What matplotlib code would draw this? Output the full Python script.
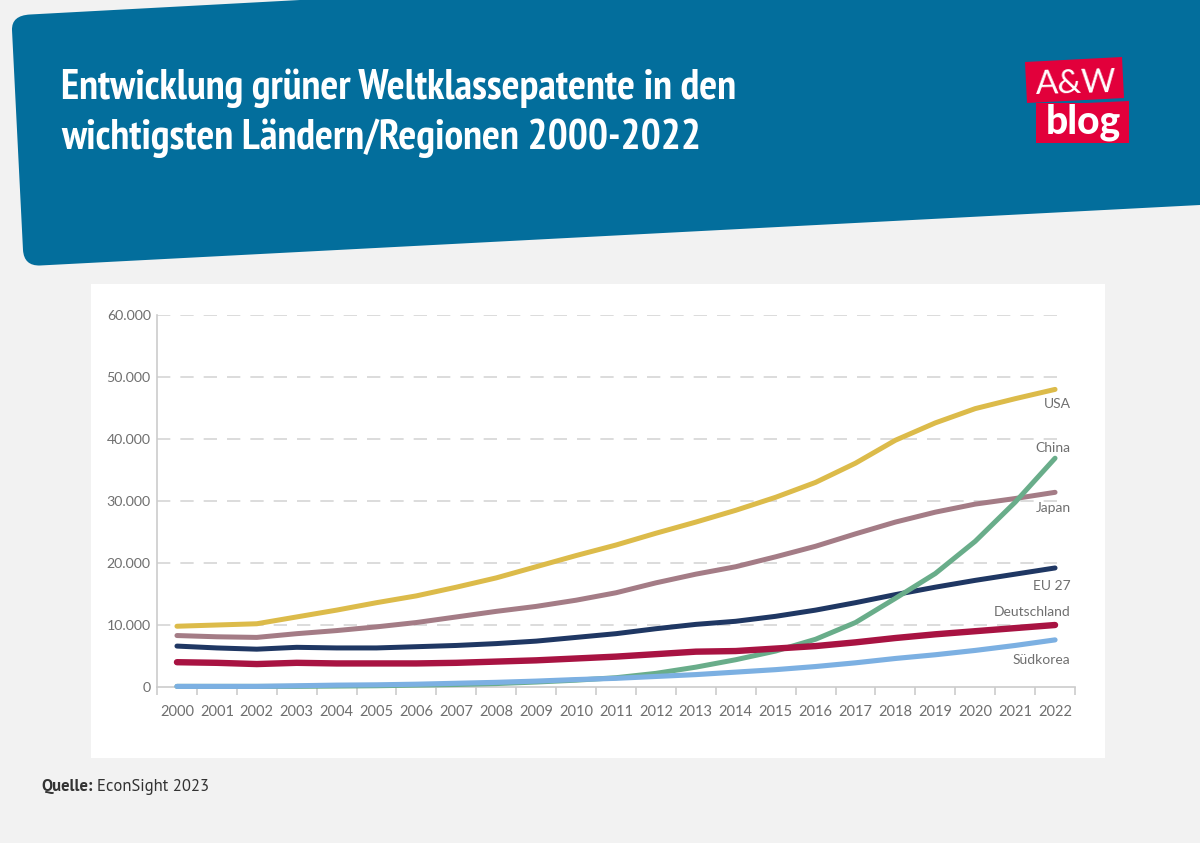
import matplotlib
matplotlib.use('Agg')
import matplotlib.pyplot as plt
from matplotlib.patches import PathPatch, Polygon, Rectangle
from matplotlib.path import Path
import numpy as np

years = list(range(2000, 2023))
usa = [9800, 10000, 10200, 11300, 12400, 13600, 14700, 16100, 17600, 19400, 21200, 22900,
       24800, 26600, 28500, 30600, 33000, 36100, 39800, 42600, 44900, 46500, 48000]
japan = [8300, 8100, 8000, 8600, 9100, 9700, 10400, 11300, 12200, 13000, 14000, 15200,
         16800, 18200, 19400, 21000, 22700, 24700, 26600, 28200, 29500, 30400, 31400]
eu27 = [6600, 6300, 6100, 6400, 6300, 6300, 6500, 6700, 7000, 7400, 8000, 8600,
        9400, 10100, 10600, 11400, 12400, 13600, 14900, 16100, 17200, 18200, 19200]
china = [100, 100, 100, 100, 150, 200, 300, 400, 550, 800, 1100, 1500,
         2200, 3200, 4400, 5800, 7700, 10400, 14300, 18300, 23500, 29800, 36900]
germany = [4000, 3900, 3700, 3900, 3800, 3800, 3800, 3900, 4100, 4300, 4600, 4900,
           5300, 5700, 5800, 6200, 6600, 7200, 7900, 8500, 9000, 9500, 10000]
korea = [100, 100, 100, 200, 300, 350, 450, 600, 750, 950, 1200, 1400,
         1700, 2000, 2400, 2800, 3300, 3900, 4600, 5200, 5900, 6700, 7600]
y_ticks = [0, 10000, 20000, 30000, 40000, 50000, 60000]
y_labels = ['0', '10.000', '20.000', '30.000', '40.000', '50.000', '60.000']

W, H = 1200, 843
fig = plt.figure(figsize=(W / 100, H / 100), dpi=100, facecolor='#f2f2f2')

# page furniture, in pixel coordinates
bg = fig.add_axes([0, 0, 1, 1])
bg.set_xlim(0, W)
bg.set_ylim(H, 0)
bg.axis('off')

verts = [(30, 14.5), (300, 0), (1200, 0), (1200, 205), (40, 265.5), (40, 265.5),
         (24, 266), (23, 250), (12, 30), (12, 30), (11.5, 15.5), (30, 14.5)]
codes = [Path.MOVETO, Path.LINETO, Path.LINETO, Path.LINETO, Path.LINETO, Path.LINETO,
         Path.CURVE3, Path.CURVE3, Path.LINETO, Path.LINETO, Path.CURVE3, Path.CURVE3]
bg.add_patch(PathPatch(Path(verts, codes), fc='#036e9c', ec='none'))
bg.add_patch(Rectangle((91, 284), 1014, 474, fc='white', ec='none'))

title_font = ['PT Sans Narrow', 'Liberation Sans']
bg.text(61, 88, 'Entwicklung grüner Weltklassepatente in den', family=title_font, weight='bold',
        fontsize=30.3, color='white', va='center', ha='left')
bg.text(61, 138, 'wichtigsten Ländern/Regionen 2000-2022', family=title_font, weight='bold',
        fontsize=30.3, color='white', va='center', ha='left')

bg.add_patch(Polygon([(1025, 62), (1122, 57), (1124, 98), (1027, 103)], fc='#e2003b', ec='none'))
bg.add_patch(Polygon([(1036, 103), (1086, 103), (1129, 101), (1129, 143), (1036, 143)], fc='#e2003b', ec='none'))
bg.text(1076, 84, 'A&W', family='Lato', fontsize=24, color='white', ha='center', va='center', rotation=1.5)
bg.text(1083, 122, 'blog', family='Lato', weight='black', fontsize=28, color='white',
        ha='center', va='center')

source_font = ['PT Sans', 'Open Sans']
bg.text(41, 787, 'Quelle:', family=source_font, weight='bold', fontsize=12, color='#333333', va='center')
bg.text(97, 787, 'EconSight 2023', family=source_font, fontsize=12, color='#333333', va='center')

# chart axes: 2000..2022 centred in their tick bands
ax = fig.add_axes([157 / W, 1 - 687 / H, (1075 - 157) / W, (687 - 315) / H])
ax.patch.set_alpha(0)
ax.set_xlim(1999.5, 2022.5)
ax.set_ylim(0, 60000)

ax.hlines(y_ticks[1:], 1999.5, 2022.2, color='#d6d6d6', lw=1.2, linestyles=(0, (8, 6)), zorder=1)

for s in ['top', 'right']:
    ax.spines[s].set_visible(False)
for s in ['left', 'bottom']:
    ax.spines[s].set_color('#cccccc')
    ax.spines[s].set_linewidth(1.2)

ax.set_yticks(y_ticks)
ax.set_yticklabels(y_labels)
ax.set_xticks(years)
ax.set_xticklabels([str(y) for y in years])
ax.set_xticks(np.arange(1999.5, 2023), minor=True)
ax.tick_params(axis='x', which='major', length=0, pad=13, labelsize=10.5, labelcolor='#6f6f6f')
ax.tick_params(axis='x', which='minor', length=6, width=1.2, color='#cccccc')
ax.tick_params(axis='y', length=0, pad=4.5, labelsize=10.2, labelcolor='#6f6f6f')
for lab in ax.get_xticklabels() + ax.get_yticklabels():
    lab.set_family('Lato')

series = [
    (usa, '#dcbb4a', 3.6),
    (japan, '#a47c86', 3.6),
    (eu27, '#1f3763', 3.6),
    (china, '#69ad8a', 3.6),
    (germany, '#a81342', 4.6),
    (korea, '#7cb0e2', 3.7),
]
for vals, col, lw in series:
    ax.plot(years, vals, color=col, lw=lw, solid_capstyle='round', solid_joinstyle='round',
            clip_on=False, zorder=3)

labels = ['USA', 'China', 'Japan', 'EU 27', 'Deutschland', 'Südkorea']
label_y = [45600, 38500, 28900, 16300, 12100, 4300]
for name, ly in zip(labels, label_y):
    ax.text(2022.39, ly, name, family='Lato', fontsize=10, color='#6f6f6f', ha='right', va='center', zorder=4)

fig.savefig('out.png', dpi=100, facecolor=fig.get_facecolor())
